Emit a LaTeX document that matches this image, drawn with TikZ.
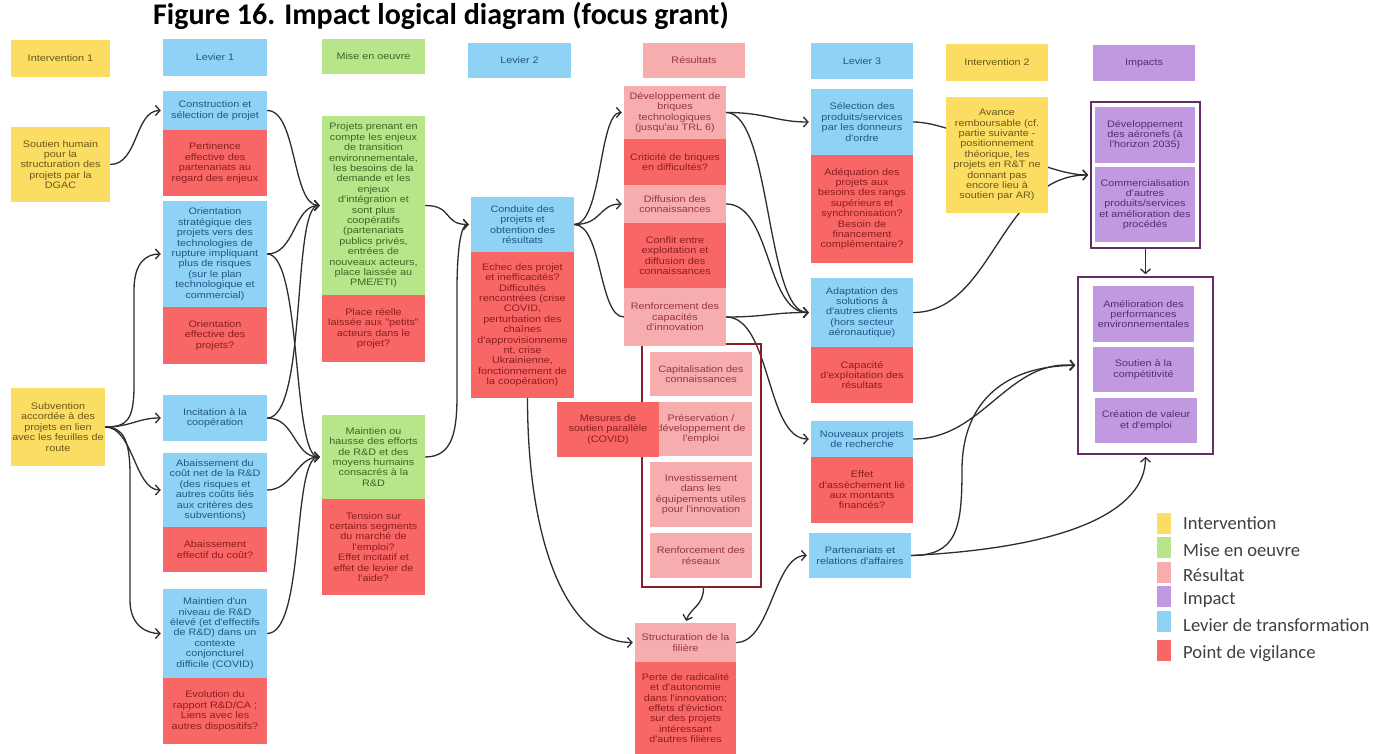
\documentclass[tikz,border=0pt]{standalone}
\usepackage{fontspec}
\setmainfont{Liberation Sans}
\newfontfamily\boxfont[FakeStretch=1.15]{Liberation Sans}
\newfontfamily\calibfont{Carlito}
\usetikzlibrary{arrows.meta}
\pgfdeclarelayer{background}
\pgfsetlayers{background,main}

\definecolor{yelF}{RGB}{250,221,98}
\definecolor{yelT}{RGB}{105,90,25}
\definecolor{grnF}{RGB}{184,229,138}
\definecolor{grnT}{RGB}{55,105,35}
\definecolor{bluF}{RGB}{142,211,245}
\definecolor{bluT}{RGB}{35,85,135}
\definecolor{pnkF}{RGB}{247,172,174}
\definecolor{pnkT}{RGB}{150,55,65}
\definecolor{redF}{RGB}{248,102,102}
\definecolor{redT}{RGB}{140,30,30}
\definecolor{purF}{RGB}{193,153,224}
\definecolor{purT}{RGB}{85,45,115}
\definecolor{purD}{RGB}{100,45,105}
\definecolor{frmR}{RGB}{135,30,45}
\definecolor{lineC}{RGB}{45,45,45}
\definecolor{legT}{RGB}{64,64,64}

\tikzset{
  card/.style={rectangle, inner sep=0pt, align=center,
    font=\boxfont\fontsize{9.4}{10.4}\selectfont},
  sz/.style 2 args={minimum width=#1, minimum height=#2},
  yel/.style={card, fill=yelF, text=yelT},
  grn/.style={card, fill=grnF, text=grnT},
  blu/.style={card, fill=bluF, text=bluT},
  pnk/.style={card, fill=pnkF, text=pnkT},
  red/.style={card, fill=redF, text=redT},
  pur/.style={card, fill=purF, text=purT},
  lnk/.style={draw=lineC, line width=1.3pt},
  arr/.style={lnk, shorten >=2pt, -{Straight Barb[length=4.5pt,width=10pt]}},
  swatch/.style={rectangle, inner sep=0pt, minimum width=14, minimum height=21},
  legtext/.style={anchor=base west, inner sep=0pt, text=legT,
    font=\calibfont\fontsize{18.6}{20}\selectfont},
}

\begin{document}
\begin{tikzpicture}[x=1pt,y=-1pt]
\useasboundingbox (0,0) rectangle (1374,754);

% title
\node[anchor=base west, inner sep=0pt, font=\calibfont\bfseries\fontsize{30}{32}\selectfont]
  (title) at (153,25) {Figure 16. Impact logical diagram (focus grant)};

% column headers
\node[yel, sz={99}{37}]  (h1) at (60.5,58.5) {Intervention 1};
\node[blu, sz={104}{37}] (h2) at (215,57.5) {Levier 1};
\node[grn, sz={103}{35}] (h3) at (373.5,56.5) {Mise en oeuvre};
\node[blu, sz={103}{35}] (h4) at (519.5,60.5) {Levier 2};
\node[pnk, sz={102}{35}] (h5) at (694,60.5) {Résultats};
\node[blu, sz={102}{36}] (h6) at (862,61) {Levier 3};
\node[yel, sz={102}{37}] (h7) at (997,62.5) {Intervention 2};
\node[pur, sz={102}{36}] (h8) at (1144,63) {Impacts};

% interventions
\node[yel, sz={99}{75}] (soutien) at (60.5,164.5)
  {Soutien humain\\pour la\\structuration des\\projets par la\\DGAC};
\node[yel, sz={94}{78}] (subv) at (58,427)
  {Subvention\\accordée à des\\projets en lien\\avec les feuilles de\\route};

% levier 1
\node[blu, sz={104}{39}] (cons) at (215,110.5) {Construction et\\sélection de projet};
\node[red, sz={104}{66}] (consR) at (215,163) {Pertinence\\effective des\\partenariats au\\regard des enjeux};
\node[blu, sz={104}{106}] (orient) at (215,254)
  {Orientation\\stratégique des\\projets vers des\\technologies de\\rupture impliquant\\plus de risques\\(sur le plan\\technologique et\\commercial)};
\node[red, sz={104}{57}] (orientR) at (215,335.5) {Orientation\\effective des\\projets?};
\node[blu, sz={104}{46}] (incit) at (215,418) {Incitation à la\\coopération};
\node[blu, sz={104}{74}] (abais) at (215,490)
  {Abaissement du\\coût net de la R\&D\\(des risques et\\autres coûts liés\\aux critères des\\subventions)};
\node[red, sz={104}{45}] (abaisR) at (215,549.5) {Abaissement\\effectif du coût?};
\node[blu, sz={104}{89}] (maintN) at (215,633.5)
  {Maintien d'un\\niveau de R\&D\\élevé (et d'effectifs\\de R\&D) dans un\\contexte\\conjoncturel\\difficile (COVID)};
\node[red, sz={104}{66}] (maintNR) at (215,711)
  {Evolution du\\rapport R\&D/CA ;\\Liens avec les\\autres dispositifs?};

% mise en oeuvre
\node[grn, sz={103}{179}] (proj) at (373.5,205.5)
  {Projets prenant en\\compte les enjeux\\de transition\\environnementale,\\les besoins de la\\demande et les\\enjeux\\d'intégration et\\sont plus\\coopératifs\\(partenariats\\publics privés,\\entrées de\\nouveaux acteurs,\\place laissée au\\PME/ETI)};
\node[red, sz={103}{67}] (projR) at (373.5,328.5)
  {Place réelle\\laissée aux "petits"\\acteurs dans le\\projet?};
\node[grn, sz={103}{84}] (mh) at (373.5,457)
  {Maintien ou\\hausse des efforts\\de R\&D et des\\moyens humains\\consacrés à la\\R\&D};
\node[red, sz={103}{96}] (mhR) at (373.5,547)
  {Tension sur\\certains segments\\du marché de\\l'emploi?\\Effet incitatif et\\effet de levier de\\l'aide?};

% levier 2
\node[blu, sz={103}{55}] (cond) at (522.5,224.5)
  {Conduite des\\projets et\\obtention des\\résultats};
\node[red, sz={103}{146}] (condR) at (522.5,325)
  {Echec des projet\\et inefficacités?\\Difficultés\\rencontrées (crise\\COVID,\\perturbation des\\chaînes\\d'approvisionneme\\nt, crise\\Ukrainienne,\\fonctionnement de\\la coopération)};

% results frame and its content
\node[draw=frmR, line width=1.8pt, sz={119}{243}] (rframe) at (701.5,465.5) {};
\node[pnk, sz={102}{53}] (dev) at (675,112.5)
  {Développement de\\briques\\technologiques\\(jusqu'au TRL 6)};
\node[red, sz={102}{46}] (devR) at (675,162) {Criticité de briques\\en difficultés?};
\node[pnk, sz={102}{38}] (diff) at (675,204) {Diffusion des\\connaissances};
\node[red, sz={102}{65}] (diffR) at (675,255.5)
  {Conflit entre\\exploitation et\\diffusion des\\connaissances};
\node[pnk, sz={102}{58}] (renf) at (675,317) {Renforcement des\\capacités\\d'innovation};
\node[pnk, sz={102}{44}] (capi) at (701,374) {Capitalisation des\\connaissances};
\node[pnk, sz={102}{54}] (pres) at (701,429) {Préservation /\\développement de\\l'emploi};
\node[pnk, sz={102}{65}] (inv) at (701,494.5)
  {Investissement\\dans les\\équipements utiles\\pour l'innovation};
\node[pnk, sz={102}{45}] (res) at (701,555.5) {Renforcement des\\réseaux};
\node[red, sz={102}{55}] (mes) at (608,429.5) {Mesures de\\soutien parallèle\\(COVID)};
\node[pnk, sz={101}{39}] (struct) at (685.5,642.5) {Structuration de la\\filière};
\node[red, sz={101}{92}] (structR) at (685.5,708)
  {Perte de radicalité\\et d'autonomie\\dans l'innovation;\\effets d'éviction\\sur des projets\\intéressant\\d'autres filières};

% levier 3
\node[blu, sz={102}{66}] (sel) at (862,122)
  {Sélection des\\produits/services\\par les donneurs\\d'ordre};
\node[red, sz={102}{108}] (selR) at (862,209)
  {Adéquation des\\projets aux\\besoins des rangs\\supérieurs et\\synchronisation?\\Besoin de\\financement\\complémentaire?};
\node[blu, sz={102}{69}] (adapt) at (862,312.5)
  {Adaptation des\\solutions à\\d'autres clients\\(hors secteur\\aéronautique)};
\node[red, sz={102}{56}] (adaptR) at (862,375)
  {Capacité\\d'exploitation des\\résultats};
\node[blu, sz={102}{36}] (nouv) at (862,439) {Nouveaux projets\\de recherche};
\node[red, sz={102}{66}] (nouvR) at (862,490)
  {Effet\\d'assèchement lié\\aux montants\\financés?};
\node[blu, sz={102}{45}] (part) at (860,555.5) {Partenariats et\\relations d'affaires};

% intervention 2
\node[yel, sz={102}{116}] (avance) at (997,155)
  {Avance\\remboursable (cf.\\partie suivante -\\positionnement\\théorique, les\\projets en R\&T ne\\donnant pas\\encore lieu à\\soutien par AR)};

% impacts
\node[draw=purD, line width=1.6pt, fill=white, sz={109}{146}] (frame1) at (1145.5,175) {};
\node[pur, sz={100}{56}] (devA) at (1145,135)
  {Développement\\des aéronefs (à\\l'horizon 2035)};
\node[pur, sz={100}{75}] (comm) at (1145,204.5)
  {Commercialisation\\d'autres\\produits/services\\et amélioration des\\procédés};
\node[draw=purD, line width=1.6pt, fill=white, sz={135}{177}] (frame2) at (1145.5,365.5) {};
\node[pur, sz={101}{56}] (amel) at (1143.5,314)
  {Amélioration des\\performances\\environnementales};
\node[pur, sz={101}{45}] (sout) at (1143.5,369.5) {Soutien à la\\compétitivité};
\node[pur, sz={102}{45}] (crea) at (1146,420.5) {Création de valeur\\et d'emploi};

% legend
\node[swatch, fill=yelF] (lg1) at (1164,523) {};
\node[swatch, fill=grnF] (lg2) at (1164,547) {};
\node[swatch, fill=pnkF] (lg3) at (1164,572) {};
\node[swatch, fill=purF] (lg4) at (1164,596) {};
\node[swatch, fill=bluF] (lg5) at (1164,621) {};
\node[swatch, fill=redF] (lg6) at (1164,650) {};
\node[legtext] (lt1) at (1183,529) {Intervention};
\node[legtext] (lt2) at (1183,556) {Mise en oeuvre};
\node[legtext] (lt3) at (1183,581) {Résultat};
\node[legtext] (lt4) at (1183,604) {Impact};
\node[legtext] (lt5) at (1183,631) {Levier de transformation};
\node[legtext] (lt6) at (1183,658) {Point de vigilance};

% connectors, drawn under the boxes
\begin{pgfonlayer}{background}
\fill[white] (0,0) rectangle (1374,754);

\draw[arr] (soutien.east) .. controls +(28,0) and +(-28,0) .. (cons.west);
\draw[arr] (subv.east) .. controls +(22,0) and +(0,35) .. (134,385) -- (134,290)
  .. controls +(0,-28) and +(-16,0) .. (orient.west);
\draw[arr] (subv.east) .. controls +(25,0) and +(-25,0) .. (incit.west);
\draw[arr] (subv.east) .. controls +(28,0) and +(-28,0) .. (abais.west);
\draw[arr] (subv.east) .. controls +(18,0) and +(0,-35) .. (130,475) -- (130,600)
  .. controls +(0,26) and +(-16,0) .. (maintN.west);

\draw[arr] (cons.east) .. controls +(30,0) and +(-30,0) .. (proj.west);
\draw[arr] (orient.east) .. controls +(28,0) and +(-28,0) .. (proj.west);
\draw[arr] (incit.east) .. controls +(40,0) and +(-30,0) .. (proj.west);
\draw[arr] (orient.east) .. controls +(35,0) and +(-30,0) .. (mh.west);
\draw[arr] (incit.east) .. controls +(28,0) and +(-28,0) .. (mh.west);
\draw[arr] (abais.east) .. controls +(25,0) and +(-25,0) .. (mh.west);
\draw[arr] (maintN.east) .. controls +(38,0) and +(-30,0) .. (mh.west);

\draw[arr] (proj.east) .. controls +(28,0) and +(-28,0) .. (cond.west);
\draw[arr] (mh.east) .. controls +(28,0) and +(0,35) .. (457,395) -- (457,290)
  .. controls +(0,-40) and +(-10,0) .. (cond.west);

\draw[arr] (cond.east) .. controls +(28,0) and +(-25,0) .. (dev.west);
\draw[arr] (cond.east) .. controls +(28,0) and +(-25,0) .. (diff.west);
\draw[lnk] (cond.east) .. controls +(28,0) and +(-25,0) .. (renf.west);
\draw[arr] ([xshift=5pt]condR.south) .. controls +(0,140) and +(-70,0) .. (struct.west);

\draw[arr] (dev.east) .. controls +(40,0) and +(-35,0) .. (sel.west);
\draw[arr] (dev.east) .. controls +(45,0) and +(-45,0) .. (adapt.west);
\draw[arr] (diff.east) .. controls +(45,0) and +(-45,0) .. (adapt.west);
\draw[arr] (renf.east) .. controls +(40,0) and +(-40,0) .. (adapt.west);
\draw[arr] (renf.east) .. controls +(45,0) and +(-45,0) .. (nouv.west);
\draw[arr] (struct.east) .. controls +(35,0) and +(-35,0) .. (part.west);
\draw[arr] ([xshift=2pt]rframe.south) .. controls +(0,18) and +(5,-15) .. (struct.north);

\draw[arr] (sel.east) .. controls +(45,0) and +(-50,0) .. (frame1.west);
\draw[arr] (adapt.east) .. controls +(80,0) and +(-90,0) .. (frame1.west);
\draw[arr] (nouv.east) .. controls +(70,0) and +(-70,-6) .. (frame2.west);
\draw[arr] (part.east) .. controls +(45,0) and +(0,60) .. (962,470)
  .. controls +(0,-70) and +(-70,0) .. (frame2.west);
\draw[arr] (part.east) .. controls +(160,-8) and +(0,55) .. (frame2.south);
\draw[arr] (frame1.south) -- (frame2.north);
\end{pgfonlayer}
\end{tikzpicture}
\end{document}
